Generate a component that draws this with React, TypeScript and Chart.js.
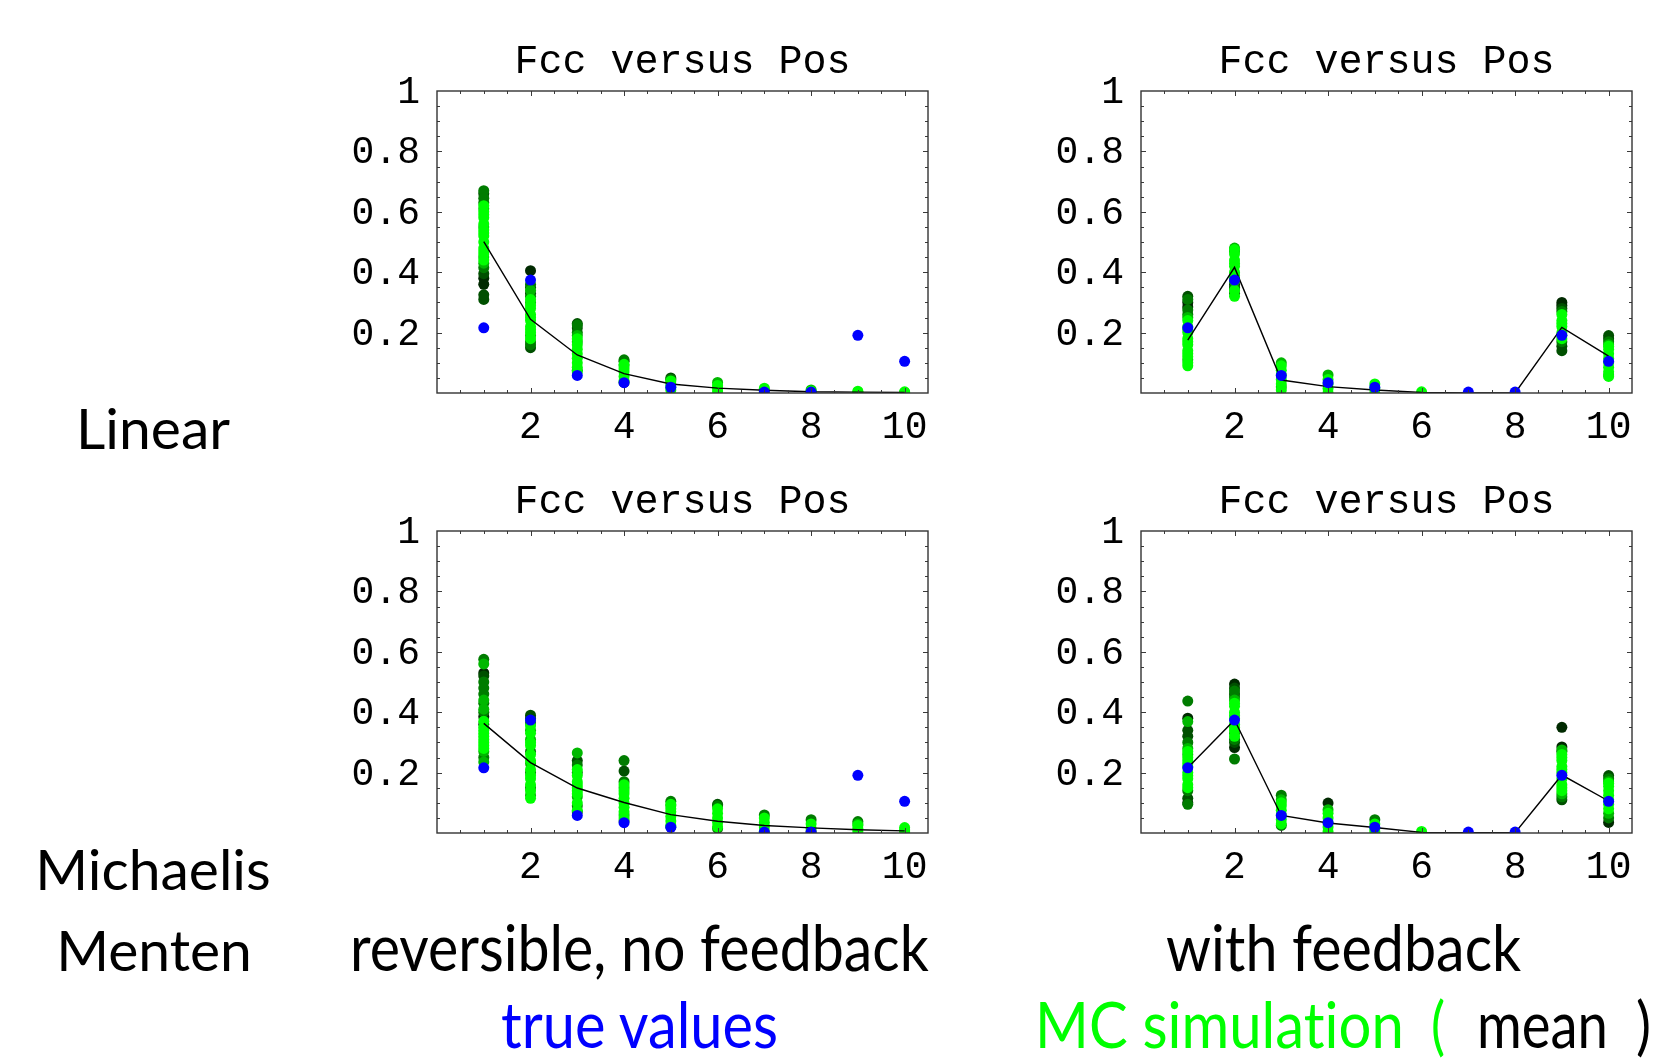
import React, { useEffect, useLayoutEffect, useRef, useState } from "react";
import { Chart, registerables } from "chart.js";

Chart.register(...registerables);

// ---------------- data ----------------
const POSITIONS = [1, 2, 3, 4, 5, 6, 7, 8, 9, 10];
const X_TICKS = [2, 4, 6, 8, 10];
const X_LABELS = ["2", "4", "6", "8", "10"];
const Y_TICKS = [0.2, 0.4, 0.6, 0.8, 1];
const Y_LABELS = ["0.2", "0.4", "0.6", "0.8", "1"];

const TRUE_VALUES = [0.216, 0.374, 0.058, 0.034, 0.019, null, 0.003, 0.003, 0.191, 0.105];

// mean of MC runs (black line)
const TL_MEAN = [0.501, 0.244, 0.126, 0.064, 0.03, 0.016, 0.009, 0.004, 0.003, 0.002];
const TR_MEAN = [0.175, 0.416, 0.043, 0.021, 0.01, 0.002, 0.0, 0.0, 0.217, 0.122];
const BL_MEAN = [0.363, 0.233, 0.149, 0.101, 0.061, 0.039, 0.025, 0.017, 0.011, 0.007];
const BR_MEAN = [0.216, 0.374, 0.058, 0.033, 0.018, 0.002, 0.001, 0.001, 0.192, 0.106];

// MC samples, one list per position, split by shade (dark -> bright)
const TL_G0 = [[0.36, 0.38], [0.405], [], [], [], [], [], [], [], []];
const TL_G1 = [[0.31, 0.325, 0.395, 0.66], [0.15, 0.33, 0.35], [0.215, 0.23], [0.105], [0.05], [], [], [], [], []];
const TL_G2 = [[0.67, 0.645, 0.63, 0.415], [0.16, 0.17, 0.36, 0.32], [0.075, 0.2, 0.225], [0.035, 0.11], [0.045], [], [], [], [], []];
const TL_G3 = [[0.43, 0.45, 0.55, 0.61], [0.19, 0.3, 0.34], [0.17, 0.19], [0.09], [], [0.035], [], [0.01], [], []];
const TL_G4 = [
  [0.44, 0.46, 0.47, 0.48, 0.5, 0.52, 0.53, 0.54, 0.56, 0.58, 0.59, 0.6, 0.62],
  [0.18, 0.2, 0.21, 0.22, 0.24, 0.25, 0.26, 0.28, 0.29, 0.31],
  [0.07, 0.085, 0.1, 0.115, 0.13, 0.145, 0.16, 0.18],
  [0.04, 0.055, 0.07, 0.08, 0.095],
  [0.01, 0.02, 0.03, 0.04],
  [0.005, 0.015, 0.025],
  [0.004, 0.01, 0.016],
  [0.003, 0.007],
  [0.003, 0.006],
  [0.002, 0.004],
];

const TR_G0 = [[0.3, 0.285], [], [], [], [], [], [], [], [0.3, 0.29], []];
const TR_G1 = [[0.32], [0.35, 0.36], [], [], [], [], [], [], [0.14, 0.155, 0.28], [0.19, 0.18]];
const TR_G2 = [[0.31, 0.275, 0.26], [0.33, 0.345, 0.47], [], [], [], [], [], [], [0.27, 0.17], [0.17]];
const TR_G3 = [[0.25, 0.11], [0.48, 0.37], [0.1, 0.02], [0.06], [], [], [], [], [], [0.16, 0.06]];
const TR_G4 = [
  [0.09, 0.1, 0.12, 0.13, 0.14, 0.16, 0.17, 0.18, 0.2, 0.21, 0.22, 0.24],
  [0.32, 0.34, 0.38, 0.39, 0.4, 0.42, 0.43, 0.44, 0.46, 0.475],
  [0.01, 0.03, 0.045, 0.06, 0.075, 0.09],
  [0.0, 0.015, 0.03, 0.045],
  [0.0, 0.015, 0.03],
  [0.004],
  [],
  [],
  [0.18, 0.19, 0.2, 0.22, 0.23, 0.24, 0.26],
  [0.055, 0.07, 0.085, 0.1, 0.115, 0.13, 0.145, 0.155],
];

const BL_G0 = [[0.53, 0.385], [], [], [], [], [], [], [], [], []];
const BL_G1 = [[0.52, 0.36], [0.39, 0.38], [0.07, 0.24], [0.205], [], [0.095], [], [], [], []];
const BL_G2 = [[0.575, 0.5, 0.48, 0.46, 0.43, 0.4, 0.25], [0.365, 0.27, 0.2, 0.15], [0.225, 0.09, 0.2], [0.24, 0.17, 0.04], [0.105, 0.02], [0.09, 0.015], [0.06], [0.044, 0.005], [0.038], []];
const BL_G3 = [[0.56, 0.44, 0.41, 0.27, 0.235], [0.34, 0.31, 0.23, 0.125], [0.265, 0.12], [0.15, 0.06], [0.09], [], [], [], [0.03], []];
const BL_G4 = [
  [0.28, 0.29, 0.3, 0.31, 0.32, 0.33, 0.34, 0.35, 0.37],
  [0.115, 0.14, 0.16, 0.18, 0.19, 0.21, 0.24, 0.26, 0.29, 0.3, 0.33, 0.355],
  [0.075, 0.1, 0.13, 0.14, 0.15, 0.16, 0.17, 0.19, 0.21],
  [0.05, 0.07, 0.085, 0.1, 0.115, 0.13, 0.14, 0.16],
  [0.025, 0.04, 0.055, 0.07, 0.08, 0.095],
  [0.02, 0.035, 0.05, 0.065, 0.08],
  [0.006, 0.02, 0.035, 0.05],
  [0.015, 0.03],
  [0.005, 0.015, 0.025],
  [0.004, 0.01, 0.018],
];

const BR_G0 = [[0.38, 0.1], [0.493, 0.283], [], [0.099], [], [], [], [], [0.35, 0.285], [0.035]];
const BR_G1 = [[0.34, 0.32, 0.115], [0.48, 0.46, 0.3], [], [], [], [], [], [], [0.11, 0.27], [0.19]];
const BR_G2 = [[0.437, 0.3, 0.14, 0.095], [0.245, 0.47, 0.45, 0.31], [0.125, 0.025], [], [0.044], [], [], [], [0.12], [0.18, 0.05]];
const BR_G3 = [[0.369, 0.28, 0.26], [0.44, 0.33], [0.11], [0.077], [], [], [], [], [0.275, 0.13], [0.17, 0.065]];
const BR_G4 = [
  [0.15, 0.16, 0.18, 0.19, 0.2, 0.22, 0.23, 0.24, 0.25, 0.27],
  [0.32, 0.34, 0.35, 0.36, 0.38, 0.39, 0.4, 0.42, 0.43],
  [0.03, 0.045, 0.06, 0.075, 0.09, 0.1],
  [0.005, 0.02, 0.035, 0.05, 0.065],
  [0.005, 0.015, 0.03],
  [0.005],
  [],
  [],
  [0.14, 0.15, 0.16, 0.18, 0.2, 0.21, 0.22, 0.24, 0.25, 0.26],
  [0.08, 0.095, 0.11, 0.125, 0.14, 0.155, 0.165],
];

const SHADES = ["#002a00", "#005000", "#007c00", "#00b800", "#00ff00"];
const TRUE_COLOR = "#0000ff";
const MC_COLOR = "#00ff00";
const TITLE = "Fcc versus Pos";

const PANELS = [
  { key: "tl", left: 330, top: 30, mean: TL_MEAN, groups: [TL_G0, TL_G1, TL_G2, TL_G3, TL_G4] },
  { key: "tr", left: 1034, top: 30, mean: TR_MEAN, groups: [TR_G0, TR_G1, TR_G2, TR_G3, TR_G4] },
  { key: "bl", left: 330, top: 470, mean: BL_MEAN, groups: [BL_G0, BL_G1, BL_G2, BL_G3, BL_G4] },
  { key: "br", left: 1034, top: 470, mean: BR_MEAN, groups: [BR_G0, BR_G1, BR_G2, BR_G3, BR_G4] },
];

// ---------------- layout ----------------
const CANVAS_W = 610;
const CANVAS_H = 430;
const Y_AXIS_W = 107;
const X_AXIS_H = 67;
const RIGHT_PAD = 11;
const MONO = '"Liberation Mono", "DejaVu Sans Mono", monospace';
const DOT_R = 5.5;

const framePlugin = {
  id: "mmaFrame",
  afterDatasetsDraw(chart: any) {
    const { ctx, chartArea, scales } = chart;
    const { left, right, top, bottom } = chartArea;
    const xs = scales.x;
    const ys = scales.y;
    ctx.save();
    ctx.strokeStyle = "#3a3a3a";
    ctx.lineWidth = 1;
    const seg = (x1: number, y1: number, x2: number, y2: number) => {
      ctx.beginPath();
      ctx.moveTo(x1, y1);
      ctx.lineTo(x2, y2);
      ctx.stroke();
    };
    for (let i = 1; i <= 20; i++) {
      const v = i * 0.5;
      const px = Math.round(xs.getPixelForValue(v)) + 0.5;
      const len = X_TICKS.includes(v) ? 5 : 3;
      seg(px, bottom, px, bottom - len);
      seg(px, top, px, top + len);
    }
    for (let i = 1; i < 20; i++) {
      const v = Math.round(i * 5) / 100;
      const py = Math.round(ys.getPixelForValue(v)) + 0.5;
      const major = Y_TICKS.some((t) => Math.abs(t - v) < 1e-9);
      const len = major ? 5 : 3;
      seg(left, py, left + len, py);
      seg(right, py, right - len, py);
    }
    ctx.lineWidth = 1.4;
    ctx.strokeStyle = "#333333";
    ctx.strokeRect(left, top, right - left, bottom - top);
    ctx.restore();
  },
};

function toPoints(lists: number[][]) {
  const pts: { x: number; y: number }[] = [];
  lists.forEach((vals, i) => vals.forEach((v) => pts.push({ x: POSITIONS[i], y: v })));
  return pts;
}

function Panel({ panel }: { panel: (typeof PANELS)[number] }) {
  const ref = useRef<HTMLCanvasElement | null>(null);
  useEffect(() => {
    if (!ref.current) return;
    const trueData = TRUE_VALUES.map((v, i) => (v == null ? null : { x: POSITIONS[i], y: v })).filter(
      (p) => p !== null
    ) as { x: number; y: number }[];
    const datasets: any[] = [
      {
        label: "true values",
        data: trueData,
        pointBackgroundColor: TRUE_COLOR,
        backgroundColor: TRUE_COLOR,
        pointBorderWidth: 0,
        pointRadius: DOT_R,
        showLine: false,
        order: 0,
        clip: 0,
      },
      {
        label: "mean",
        data: panel.mean.map((v, i) => ({ x: POSITIONS[i], y: v })),
        showLine: true,
        borderColor: "#000000",
        borderWidth: 1.4,
        pointRadius: 0,
        tension: 0,
        order: 1,
        clip: 0,
      },
    ];
    panel.groups.forEach((g, k) => {
      datasets.push({
        label: "MC " + k,
        data: toPoints(g),
        pointBackgroundColor: SHADES[k],
        backgroundColor: SHADES[k],
        pointBorderWidth: 0,
        pointRadius: DOT_R,
        showLine: false,
        order: 2 + (SHADES.length - 1 - k),
        clip: 0,
      });
    });
    const chart = new Chart(ref.current, {
      type: "scatter",
      data: { datasets },
      options: {
        animation: false,
        responsive: false,
        events: [],
        layout: { padding: { top: 0, right: RIGHT_PAD, bottom: 0, left: 0 } },
        plugins: {
          legend: { display: false },
          tooltip: { enabled: false },
          title: {
            display: true,
            text: TITLE,
            fullSize: false,
            color: "#000",
            font: { family: MONO, size: 40, weight: "normal", lineHeight: 1 },
            padding: { top: 12, bottom: 9 },
          },
        },
        scales: {
          x: {
            type: "linear",
            min: 0,
            max: 10.5,
            grid: { display: false, drawTicks: false },
            border: { display: false },
            afterBuildTicks: (s: any) => {
              s.ticks = X_TICKS.map((v) => ({ value: v }));
            },
            afterFit: (s: any) => {
              s.height = X_AXIS_H;
            },
            ticks: {
              color: "#000",
              font: { family: MONO, size: 38 },
              padding: 12,
              maxRotation: 0,
              autoSkip: false,
              callback: (v: any) => X_LABELS[X_TICKS.indexOf(Number(v))] ?? "",
            },
          },
          y: {
            type: "linear",
            min: 0,
            max: 1,
            grid: { display: false, drawTicks: false },
            border: { display: false },
            afterBuildTicks: (s: any) => {
              s.ticks = Y_TICKS.map((v) => ({ value: v }));
            },
            afterFit: (s: any) => {
              s.width = Y_AXIS_W;
            },
            ticks: {
              color: "#000",
              font: { family: MONO, size: 38 },
              padding: 17,
              labelOffset: 2,
              autoSkip: false,
              callback: (v: any) => {
                const idx = Y_TICKS.findIndex((t) => Math.abs(t - Number(v)) < 1e-9);
                return idx >= 0 ? Y_LABELS[idx] : "";
              },
            },
          },
        },
      } as any,
      plugins: [framePlugin],
    });
    return () => chart.destroy();
  }, [panel]);
  return (
    <canvas
      ref={ref}
      width={CANVAS_W}
      height={CANVAS_H}
      style={{ position: "absolute", left: panel.left, top: panel.top, width: CANVAS_W, height: CANVAS_H }}
    />
  );
}

const SANS = 'Lato, "Open Sans", sans-serif';
const LATO_BASE = 0.887; // baseline offset for Lato at line-height 1

const TEXT_BASE: React.CSSProperties = {
  position: "absolute",
  fontFamily: SANS,
  lineHeight: 1,
  whiteSpace: "nowrap",
  fontVariantLigatures: "none",
  fontFeatureSettings: '"liga" 0, "clig" 0, "dlig" 0',
};

function Label({ children, x, baseline, size, color = "#000" }: any) {
  return (
    <div
      style={{
        ...TEXT_BASE,
        left: x,
        top: baseline - size * LATO_BASE,
        fontSize: size,
        color,
        transform: "translateX(-50%)",
      }}
    >
      {children}
    </div>
  );
}

// condensed caption text: natural Lato text squeezed horizontally to a given width
function FitText({ children, left, width, baseline, size, color = "#000" }: any) {
  const ref = useRef<HTMLSpanElement | null>(null);
  const [scale, setScale] = useState(0.915);
  useLayoutEffect(() => {
    if (ref.current) {
      const w = ref.current.offsetWidth;
      if (w > 0) setScale(width / w);
    }
  }, [width]);
  return (
    <div style={{ ...TEXT_BASE, left, top: baseline - size * LATO_BASE, fontSize: size, color }}>
      <span
        ref={ref}
        style={{ display: "inline-block", transform: `scaleX(${scale})`, transformOrigin: "0 0" }}
      >
        {children}
      </span>
    </div>
  );
}

const CAP = 64;

export default function App() {
  return (
    <div
      style={{
        position: "absolute",
        left: 0,
        top: 0,
        width: 1654,
        height: 1062,
        background: "#fff",
        overflow: "hidden",
      }}
    >
      {PANELS.map((p) => (
        <Panel key={p.key} panel={p} />
      ))}
      <Label x={153} baseline={450} size={57}>
        Linear
      </Label>
      <Label x={153} baseline={891} size={57}>
        Michaelis
      </Label>
      <Label x={154} baseline={972} size={57}>
        Menten
      </Label>
      <FitText left={350} width={579} baseline={972} size={CAP}>
        reversible, no feedback
      </FitText>
      <FitText left={1166} width={355} baseline={972} size={CAP}>
        with feedback
      </FitText>
      <FitText left={501} width={277} baseline={1049} size={CAP} color={TRUE_COLOR}>
        true values
      </FitText>
      <FitText left={1035} width={369} baseline={1049} size={CAP} color={MC_COLOR}>
        MC simulation
      </FitText>
      <FitText left={1431} width={14} baseline={1049} size={CAP} color={MC_COLOR}>
        (
      </FitText>
      <FitText left={1477} width={131} baseline={1049} size={CAP}>
        mean
      </FitText>
      <FitText left={1636} width={15} baseline={1049} size={CAP}>
        )
      </FitText>
    </div>
  );
}
